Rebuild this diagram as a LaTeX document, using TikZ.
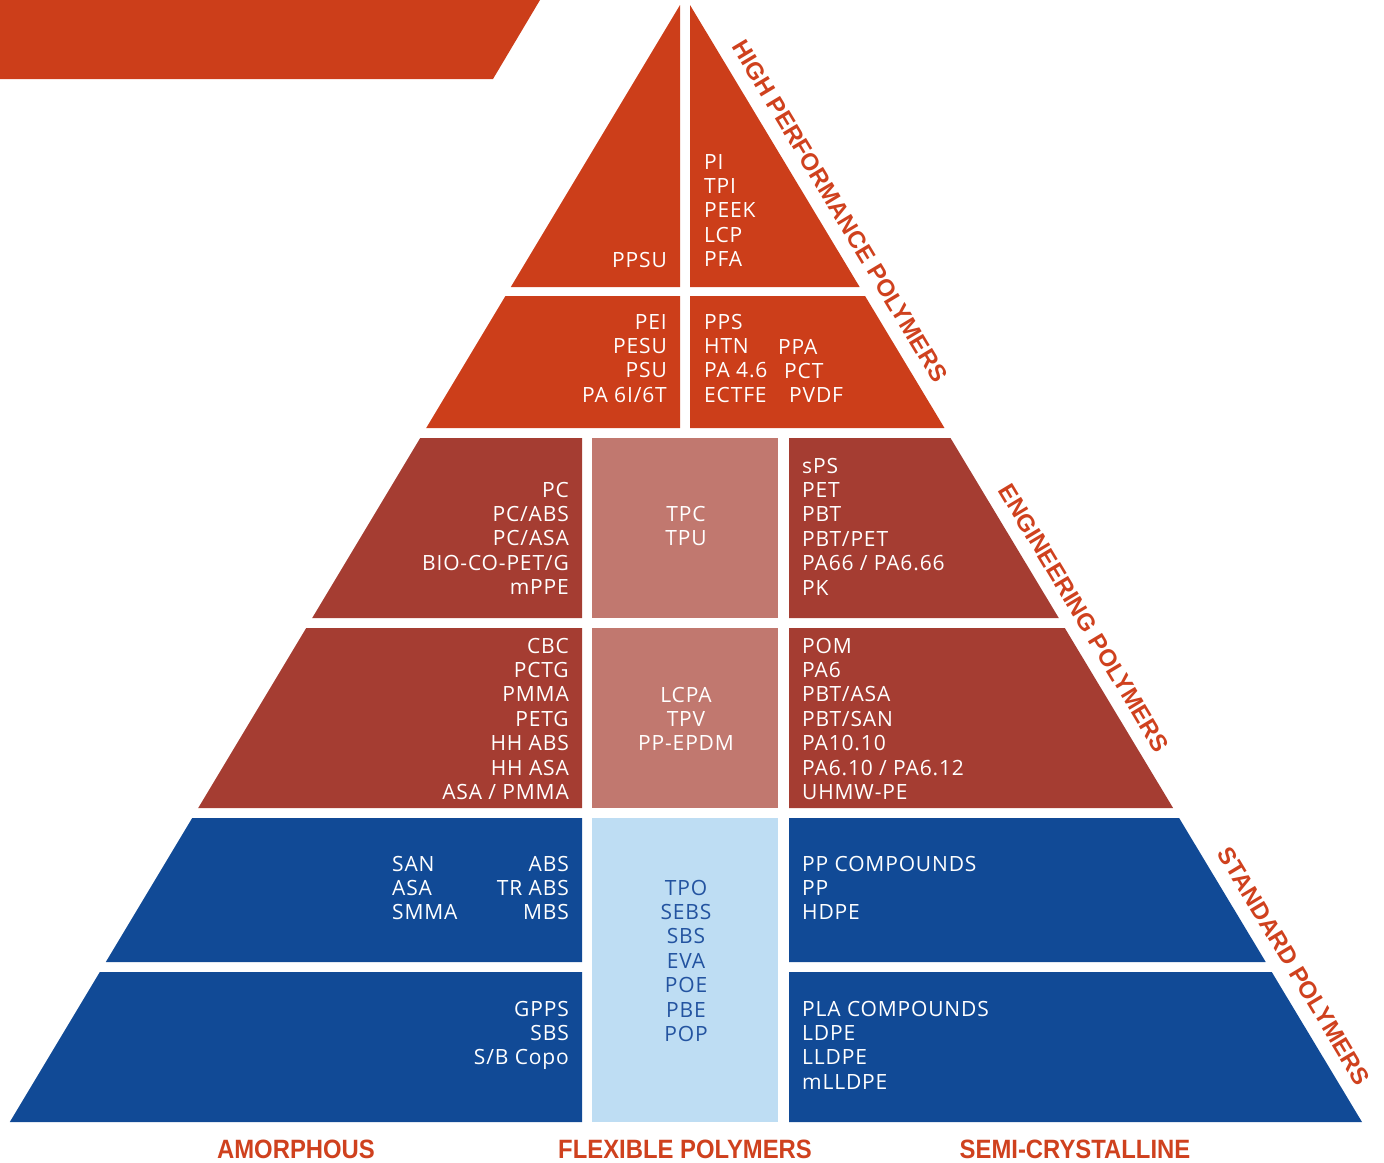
\documentclass[tikz,border=0pt]{standalone}
\usepackage{fontspec}
\setmainfont{Open Sans}[LetterSpace=4]
\newfontfamily\labfont{Liberation Sans}
\definecolor{orng}{HTML}{CC3E1A}
\definecolor{engred}{HTML}{A53D32}
\definecolor{engmid}{HTML}{C1786F}
\definecolor{stdblue}{HTML}{114A96}
\definecolor{stdmid}{HTML}{BEDDF3}
\definecolor{midtext}{HTML}{2353A0}
\definecolor{labcol}{HTML}{CF411E}
\newcommand\itemcol[6]{%
  \foreach \t [count=\i] in {#6} {\node[itm,text=#5,anchor=#4] (#1-\i) at (#2,{#3+(\i-1)*24.4}) {\t};}}
\begin{document}
\begin{tikzpicture}[x=1pt,y=-1pt,
  itm/.style={inner sep=0pt,font=\fontsize{21}{24}\selectfont},
  sidelab/.style={inner sep=0pt,rotate=-59,text=labcol,font=\labfont\bfseries\fontsize{24}{24}\selectfont},
  botlab/.style={inner sep=0pt,anchor=base,text=labcol,font=\labfont\bfseries\fontsize{26.5}{26.5}\selectfont}]
\useasboundingbox (0,0) rectangle (1384,1162);
% banner
\fill[orng] (0,0) -- (540,0) -- (493,79) -- (0,79) -- cycle;
% high performance
\fill[orng] (680,5) -- (680,287) -- (510.8,287) -- cycle;
\fill[orng] (690,5) -- (859.65,287) -- (690,287) -- cycle;
\fill[orng] (505.4,296) -- (680,296) -- (680,428) -- (426.2,428) -- cycle;
\fill[orng] (690,296) -- (865.07,296) -- (944.48,428) -- (690,428) -- cycle;
% engineering
\fill[engred] (420.2,438) -- (582,438) -- (582,618) -- (312.2,618) -- cycle;
\fill[engmid] (592,438) rectangle (778,618);
\fill[engred] (789,438) -- (950.49,438) -- (1058.78,618) -- (789,618) -- cycle;
\fill[engred] (306.2,628) -- (582,628) -- (582,808) -- (198.2,808) -- cycle;
\fill[engmid] (592,628) rectangle (778,808);
\fill[engred] (789,628) -- (1064.8,628) -- (1173.08,808) -- (789,808) -- cycle;
% standard
\fill[stdblue] (192.2,818) -- (582,818) -- (582,962) -- (105.8,962) -- cycle;
\fill[stdmid] (592,818) rectangle (778,1122);
\fill[stdblue] (789,818) -- (1179.1,818) -- (1265.73,962) -- (789,962) -- cycle;
\fill[stdblue] (99.8,972) -- (582,972) -- (582,1122) -- (9.8,1122) -- cycle;
\fill[stdblue] (789,972) -- (1271.75,972) -- (1362,1122) -- (789,1122) -- cycle;
% texts
\itemcol{ppsu}{667}{267}{base east}{white}{PPSU}
\itemcol{hp}{704}{169}{base west}{white}{PI,TPI,PEEK,LCP,PFA}
\itemcol{hl}{667}{329}{base east}{white}{PEI,PESU,PSU,PA 6I/6T}
\itemcol{hr}{704}{329}{base west}{white}{PPS,HTN,PA 4.6,ECTFE}
\node[itm,text=white,anchor=base west] (ppa) at (778,354) {PPA};
\node[itm,text=white,anchor=base west] (pct) at (784,378) {PCT};
\node[itm,text=white,anchor=base west] (pvdf) at (789,402) {PVDF};
\itemcol{el}{569}{497}{base east}{white}{PC,PC/ABS,PC/ASA,BIO-CO-PET/G,mPPE}
\itemcol{em}{686}{521}{base}{white}{TPC,TPU}
\itemcol{er}{802}{473}{base west}{white}{sPS,PET,PBT,PBT/PET,PA66 / PA6.66,PK}
\itemcol{fl}{569}{653}{base east}{white}{CBC,PCTG,PMMA,PETG,HH ABS,HH ASA,ASA / PMMA}
\itemcol{fm}{686}{702}{base}{white}{LCPA,TPV,PP-EPDM}
\itemcol{fr}{802}{653}{base west}{white}{POM,PA6,PBT/ASA,PBT/SAN,PA10.10,PA6.10 / PA6.12,UHMW-PE}
\itemcol{sa}{392}{871}{base west}{white}{SAN,ASA,SMMA}
\itemcol{sb}{569}{871}{base east}{white}{ABS,TR ABS,MBS}
\itemcol{sm}{686}{895}{base}{midtext}{TPO,SEBS,SBS,EVA,POE,PBE,POP}
\itemcol{sr}{802}{871}{base west}{white}{PP COMPOUNDS,PP,HDPE}
\itemcol{tl}{569}{1016}{base east}{white}{GPPS,SBS,S/B Copo}
\itemcol{tr}{802}{1016}{base west}{white}{PLA COMPOUNDS,LDPE,LLDPE,mLLDPE}
% side labels
\node[sidelab] (hpl) at (840,211) {HIGH PERFORMANCE POLYMERS};
\node[sidelab] (epl) at (1084,618) {ENGINEERING POLYMERS};
\node[sidelab] (spl) at (1294,966) {STANDARD POLYMERS};
% bottom labels
\node[botlab] (amo) at (296,1158) {\scalebox{0.9}[1]{AMORPHOUS}};
\node[botlab] (flx) at (685,1158) {\scalebox{0.9}[1]{FLEXIBLE POLYMERS}};
\node[botlab] (sem) at (1075,1158) {\scalebox{0.9}[1]{SEMI-CRYSTALLINE}};
\end{tikzpicture}
\end{document}
